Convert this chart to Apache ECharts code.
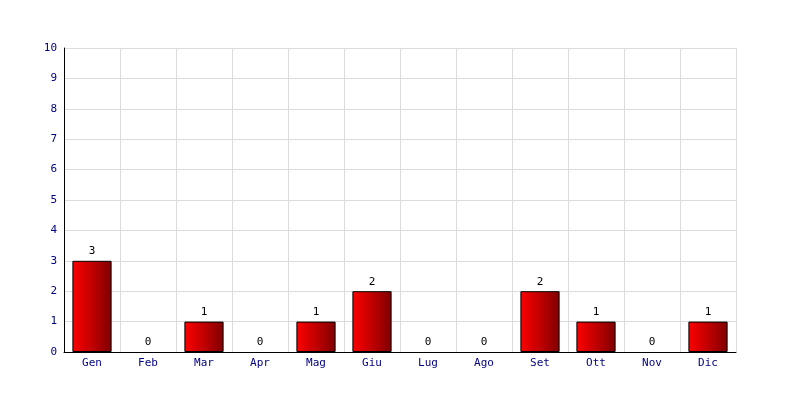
<!DOCTYPE html>
<html><head><meta charset="utf-8">
<script src="https://cdn.jsdelivr.net/npm/echarts@6/dist/echarts.min.js"></script>
<style>html,body{margin:0;padding:0;background:#fff}#c{width:800px;height:400px}</style>
</head><body><div id="c"></div>
<script>
const categories = ['Gen','Feb','Mar','Apr','Mag','Giu','Lug','Ago','Set','Ott','Nov','Dic'];
const values = [3,0,1,0,1,2,0,0,2,1,0,1];
const yTicks = {min:0, max:10, interval:1};

const chart = echarts.init(document.getElementById('c'), null, {renderer:'canvas'});
const font = '"DejaVu Sans Mono", monospace';
const seriesData = values.map(v => v === 0 ? {value:v, itemStyle:{borderWidth:0, opacity:0}, label:{opacity:1}} : v);
chart.setOption({
  animation:false,
  backgroundColor:'#fff',
  grid:{left:64, right:64, top:48, bottom:48, containLabel:false},
  xAxis:{
    type:'category', data:categories,
    axisLine:{show:true, lineStyle:{color:'#000', width:1}},
    axisTick:{show:false},
    axisLabel:{color:'#000080', fontFamily:font, fontSize:11, margin:6},
    splitLine:{show:true, lineStyle:{color:'#dcdcdc', width:1}}
  },
  yAxis:{
    type:'value', min:yTicks.min, max:yTicks.max, interval:yTicks.interval,
    axisLine:{show:true, lineStyle:{color:'#000', width:1}},
    axisTick:{show:false},
    axisLabel:{color:'#000080', fontFamily:font, fontSize:11, margin:7},
    splitLine:{show:true, lineStyle:{color:'#dcdcdc', width:1}}
  },
  series:[{
    type:'bar', data:seriesData, barWidth:'70%',
    itemStyle:{
      color:new echarts.graphic.LinearGradient(0,0,1,0,[{offset:0,color:'#ff0000'},{offset:1,color:'#800000'}]),
      borderColor:'#000', borderWidth:1
    },
    label:{show:true, position:'top', color:'#000', fontFamily:font, fontSize:11, distance:4}
  }]
});
</script></body></html>
